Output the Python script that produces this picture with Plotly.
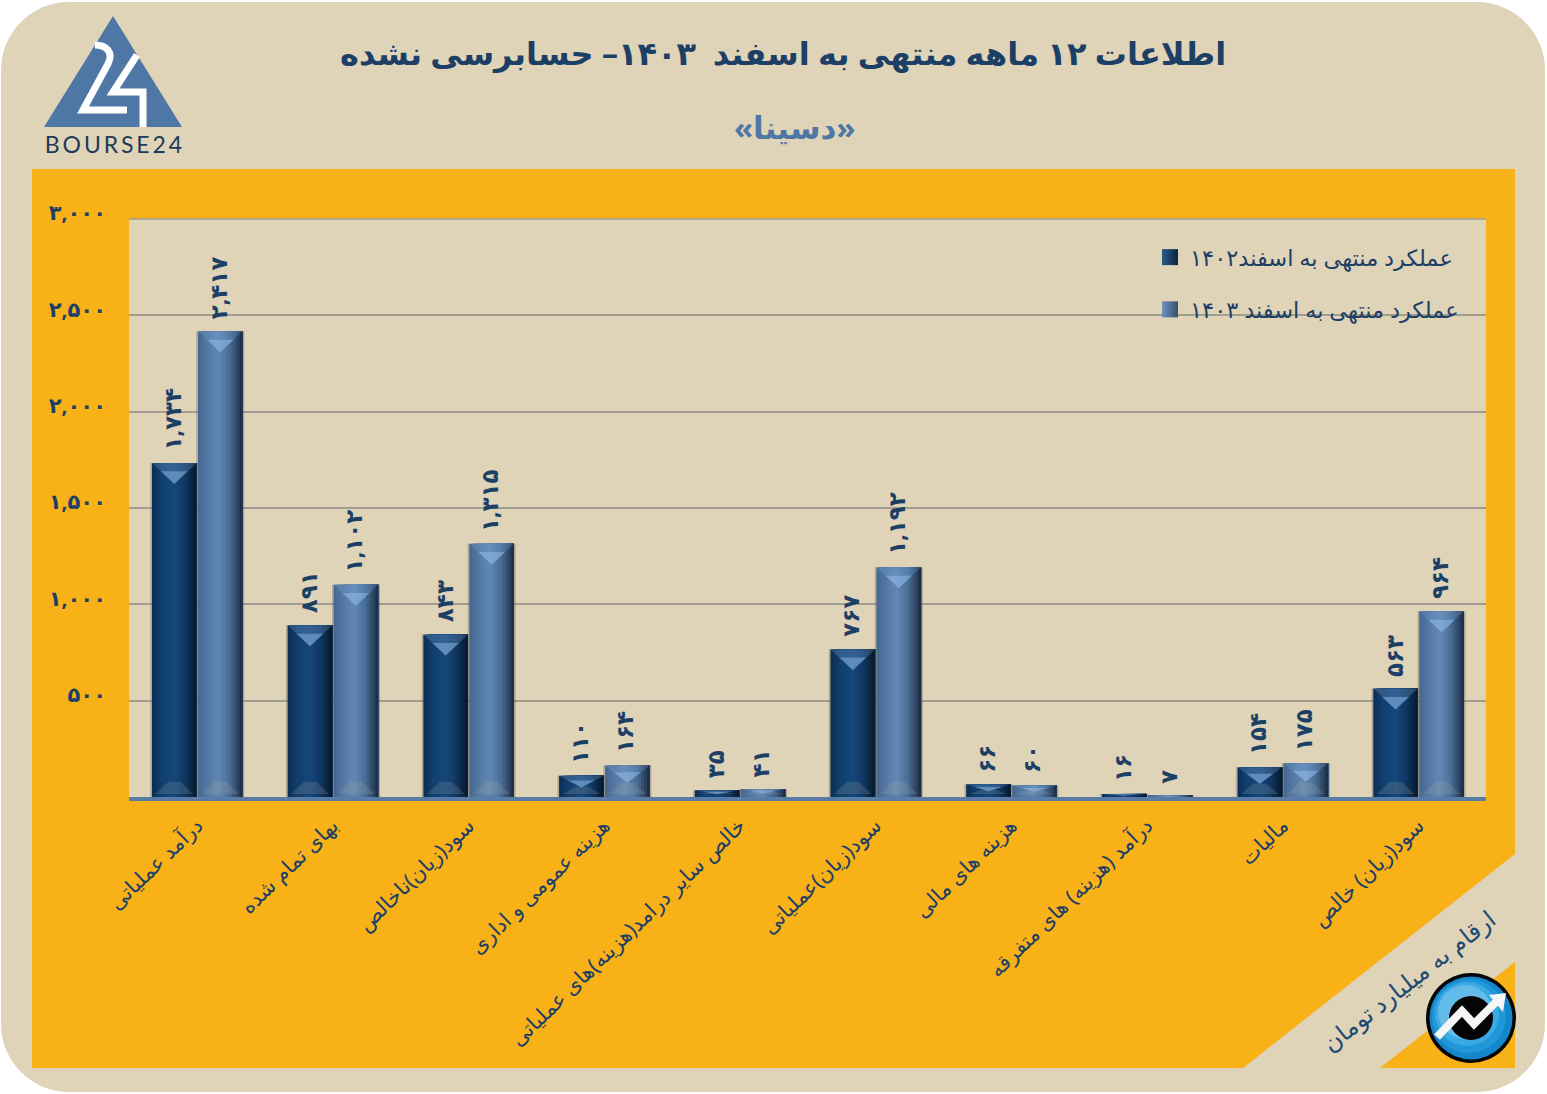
import plotly.graph_objects as go

# chart data
categories = ["درآمد عملیاتی", "بهای تمام شده", "سود(زیان)ناخالص", "هزینه عمومی و اداری",
              "خالص سایر درامد(هزینه)های عملیاتی", "سود(زیان)عملیاتی", "هزینه های مالی",
              "درآمد (هزینه) های متفرقه", "مالیات", "سود(زیان) خالص"]
values_1402 = [1734, 891, 843, 110, 35, 767, 66, 16, 154, 563]
values_1403 = [2417, 1102, 1315, 164, 41, 1192, 60, 7, 175, 964]
y_ticks = [500, 1000, 1500, 2000, 2500, 3000]
name_1402 = "عملکرد منتهی به اسفند۱۴۰۲"
name_1403 = "عملکرد منتهی به اسفند ۱۴۰۳"
title_text = "اطلاعات ۱۲ ماهه منتهی به اسفند  ۱۴۰۳– حسابرسی نشده"
subtitle_text = "«دسینا»"
unit_text = "ارقام به میلیارد تومان"

W, H = 1547, 1094
PLOT_L, PLOT_R, PLOT_T, PLOT_B = 129, 1486, 219, 797
CAT_PX = (PLOT_R - PLOT_L) / len(categories)
UNIT_PX = (PLOT_B - PLOT_T) / 3000.0

BEIGE = "#dfd3b8"
ORANGE = "#f9b118"
NAVY = "#1c3f66"
GRID = "#a19e8f"
FONT = "Noto Sans, DejaVu Sans"

GRAD_1402 = [(0, "#0c2d52"), (0.2, "#113e6d"), (0.5, "#15487c"), (0.75, "#103660"), (1, "#05182a")]
GRAD_1403 = [(0, "#45688f"), (0.2, "#5377a3"), (0.45, "#6289b6"), (0.7, "#4a6f98"), (0.9, "#2b4260"), (1, "#18283b")]


def fa_num(n):
    return "{:,}".format(n).translate(str.maketrans("0123456789", "۰۱۲۳۴۵۶۷۸۹"))


def mix(stops, t):
    for (t0, c0), (t1, c1) in zip(stops, stops[1:]):
        if t <= t1:
            f = (t - t0) / (t1 - t0)
            rgb = [round(int(c0[i:i + 2], 16) * (1 - f) + int(c1[i:i + 2], 16) * f) for i in (1, 3, 5)]
            return "rgb({},{},{})".format(*rgb)
    return stops[-1][1]


def px(x):
    return x / W


def py(y):
    return 1 - y / H


def path(points):
    out = []
    for cmd, *coords in points:
        xy = ["{:.5f},{:.5f}".format(px(coords[i]), py(coords[i + 1])) for i in range(0, len(coords), 2)]
        out.append(cmd + " ".join(xy))
    return " ".join(out)


def polygon(coords):
    cmds = [("M", *coords[0])] + [("L", *c) for c in coords[1:]]
    return path(cmds) + " Z"


def rounded(x0, y0, x1, y1, r):
    k = r * 0.45
    return path([("M", x0 + r, y0), ("L", x1 - r, y0), ("C", x1 - k, y0, x1, y0 + k, x1, y0 + r),
                 ("L", x1, y1 - r), ("C", x1, y1 - k, x1 - k, y1, x1 - r, y1),
                 ("L", x0 + r, y1), ("C", x0 + k, y1, x0, y1 - k, x0, y1 - r),
                 ("L", x0, y0 + r), ("C", x0, y0 + k, x0 + k, y0, x0 + r, y0)]) + " Z"


def poly_shape(d, color):
    return dict(type="path", xref="paper", yref="paper", path=d, fillcolor=color, line_width=0, layer="below")


def line_shape(d, color, width):
    return dict(type="path", xref="paper", yref="paper", path=d, line=dict(color=color, width=width), layer="above")


def circle(cx, cy, r, color, layer="above"):
    return dict(type="circle", xref="paper", yref="paper", x0=px(cx - r), x1=px(cx + r),
                y0=py(cy + r), y1=py(cy - r), fillcolor=color, line_width=0, layer=layer)


positions = list(range(len(categories)))
fig = go.Figure()


def add_series(values, left, width, stops):
    # soft shadow around the bar
    fig.add_trace(go.Bar(x=positions, y=values, width=width + 3.4 / CAT_PX, offset=left - 1.7 / CAT_PX,
                         marker=dict(color="rgba(70,70,70,0.3)", line_width=0),
                         showlegend=False, hoverinfo="skip"))
    # horizontal gradient made of overlapping strips
    n = 16
    for i in range(n):
        fig.add_trace(go.Bar(x=positions, y=values, width=width * (n - i) / n, offset=left + width * i / n,
                             marker=dict(color=mix(stops, (i + 0.5) / n), line_width=0),
                             showlegend=False, hoverinfo="skip"))
    # top chevron and bottom bevel
    layers = [(1.0, "rgba(120,160,205,0.30)"), (0.6, "rgba(160,200,245,0.42)")]
    for scale, color in layers:
        xs, ys = [], []
        for p, v in zip(positions, values):
            depth = min(21 / UNIT_PX, v * 0.55)
            half = width / 2 * scale
            mid = p + left + width / 2
            top = v - (1 - scale) * depth
            xs += [mid - half, mid + half, mid, None]
            ys += [top, top, v - depth, None]
        fig.add_trace(go.Scatter(x=xs, y=ys, mode="lines", fill="toself", fillcolor=color, line_width=0,
                                 showlegend=False, hoverinfo="skip"))
    xs, ys = [], []
    for p, v in zip(positions, values):
        depth = min(12 / UNIT_PX, v * 0.35)
        base = 3 / UNIT_PX
        if v > base:
            mid = p + left + width / 2
            xs += [mid - width * 0.42, mid + width * 0.42, mid + width * 0.14, mid - width * 0.14, None]
            ys += [base, base, base + depth, base + depth, None]
    fig.add_trace(go.Scatter(x=xs, y=ys, mode="lines", fill="toself", fillcolor="rgba(170,170,160,0.2)",
                             line_width=0, showlegend=False, hoverinfo="skip"))


BAR_W = 44.6 / CAT_PX
add_series(values_1402, -0.3305, BAR_W, GRAD_1402)
add_series(values_1403, 0.0085, BAR_W, GRAD_1403)

# legend entries
fig.add_trace(go.Scatter(x=[None], y=[None], mode="markers", name=name_1402, legendgroup="a",
                         marker=dict(symbol="square", size=16, color="#2d5a88",
                                     gradient=dict(type="horizontal", color="#0a2540"))))
fig.add_trace(go.Scatter(x=[None], y=[None], mode="markers", name=name_1403, legendgroup="b",
                         marker=dict(symbol="square", size=16, color="#6d93c0",
                                     gradient=dict(type="horizontal", color="#33506f"))))

annotations = []
for series, shift in ((values_1402, -0.167), (values_1403, 0.167)):
    for p, v in zip(positions, series):
        annotations.append(dict(x=p + shift, y=v, text=fa_num(v), showarrow=False, textangle=-90,
                                xanchor="center", yanchor="bottom", yshift=10, xshift=-2,
                                font=dict(family=FONT, size=23, color=NAVY, weight="bold")))


def paper_text(x, y, text, size, color, weight="normal", angle=0, family=FONT):
    return dict(x=px(x), y=py(y), xref="paper", yref="paper", text=text, showarrow=False, textangle=angle,
                xanchor="center", yanchor="middle",
                font=dict(family=family, size=size, color=color, weight=weight))


annotations += [
    paper_text(783, 53, title_text, 32, NAVY, "bold"),
    paper_text(795, 127, subtitle_text, 31, "#4f77a5", "bold"),
    paper_text(1408, 980, unit_text, 24, "#1f4a73", angle=-38),
    paper_text(112, 144, "\u2009B\u2009O\u2009U\u2009R\u2009S\u2009E\u20092\u20094", 23, "#1d3a58", family="Lato"),
]

shapes = [
    poly_shape(rounded(1, 2, 1545, 1092, 68), BEIGE),
    poly_shape(polygon([(32, 169), (1515, 169), (1515, 854), (1243, 1068), (32, 1068)]), ORANGE),
    poly_shape(polygon([(1515, 962), (1515, 1068), (1380, 1068)]), ORANGE),
    poly_shape(polygon([(PLOT_L, PLOT_T), (PLOT_R, PLOT_T), (PLOT_R, PLOT_B), (PLOT_L, PLOT_B)]), BEIGE),
    # top grid line sits on the edge of the plot
    dict(type="line", xref="paper", yref="paper", x0=px(PLOT_L), x1=px(PLOT_R), y0=py(PLOT_T), y1=py(PLOT_T),
         line=dict(color=GRID, width=1.5), layer="below"),
    # logo
    poly_shape(polygon([(113, 16), (182, 127), (44, 127)]), "#4f77a5"),
    line_shape(path([("M", 95, 45), ("C", 106, 45, 114, 52, 108, 64), ("L", 83, 110), ("L", 127, 110)]), "white", 7),
    line_shape(path([("M", 137, 55), ("L", 113, 92), ("L", 143, 92), ("L", 143, 127)]), "white", 7),
    # round badge
    circle(1471, 1018, 45, "#050505"),
]
for r, dx, color in [(41.5, 0, "#1487cb"), (37, -2, "#1f97d8"), (32, -4, "#3aa8e2"), (27, -6, "#62bbe9")]:
    shapes.append(circle(1471 + dx, 1018 + dx, r, color))
shapes += [
    circle(1471, 1018, 22, "#050505"),
    line_shape(path([("M", 1437, 1037), ("L", 1462, 1011), ("L", 1474, 1024), ("L", 1497, 1001)]), "#f4f6f7", 8),
    dict(type="path", xref="paper", yref="paper", layer="above", fillcolor="#f4f6f7", line_width=0,
         path=polygon([(1489, 995), (1506, 993), (1503, 1012)])),
]

fig.update_layout(
    width=W, height=H, autosize=False,
    margin=dict(l=0, r=0, t=0, b=0, pad=0),
    paper_bgcolor="white", plot_bgcolor="rgba(0,0,0,0)",
    barmode="overlay", showlegend=True, hovermode=False,
    font=dict(family=FONT, color=NAVY),
    legend=dict(x=px(1150), y=py(236), xanchor="left", yanchor="top", bgcolor="rgba(0,0,0,0)",
                font=dict(family=FONT, size=22.5, color=NAVY), tracegroupgap=20, itemsizing="trace"),
    xaxis=dict(domain=[px(PLOT_L), px(PLOT_R)], range=[-0.5, len(categories) - 0.5], automargin=False,
               tickmode="array", tickvals=positions, ticktext=categories, tickangle=-44,
               tickfont=dict(family=FONT, size=21, color=NAVY), ticklabelstandoff=4,
               showgrid=False, zeroline=False, showline=True, linecolor="#5a7ba6", linewidth=4, ticks=""),
    yaxis=dict(domain=[py(PLOT_B), py(PLOT_T)], range=[0, 3000], automargin=False,
               tickmode="array", tickvals=y_ticks, ticktext=[fa_num(t) for t in y_ticks],
               tickfont=dict(family=FONT, size=21, color=NAVY, weight="bold"),
               ticklabelstandoff=22, ticklabelshift=-6,
               showgrid=True, gridcolor=GRID, gridwidth=1.5, zeroline=False, showline=False, ticks=""),
    shapes=shapes,
    annotations=annotations,
)

fig.write_html("out.html", config={"displayModeBar": False},
               post_script="document.body.style.margin='0';document.body.style.overflow='hidden';")
